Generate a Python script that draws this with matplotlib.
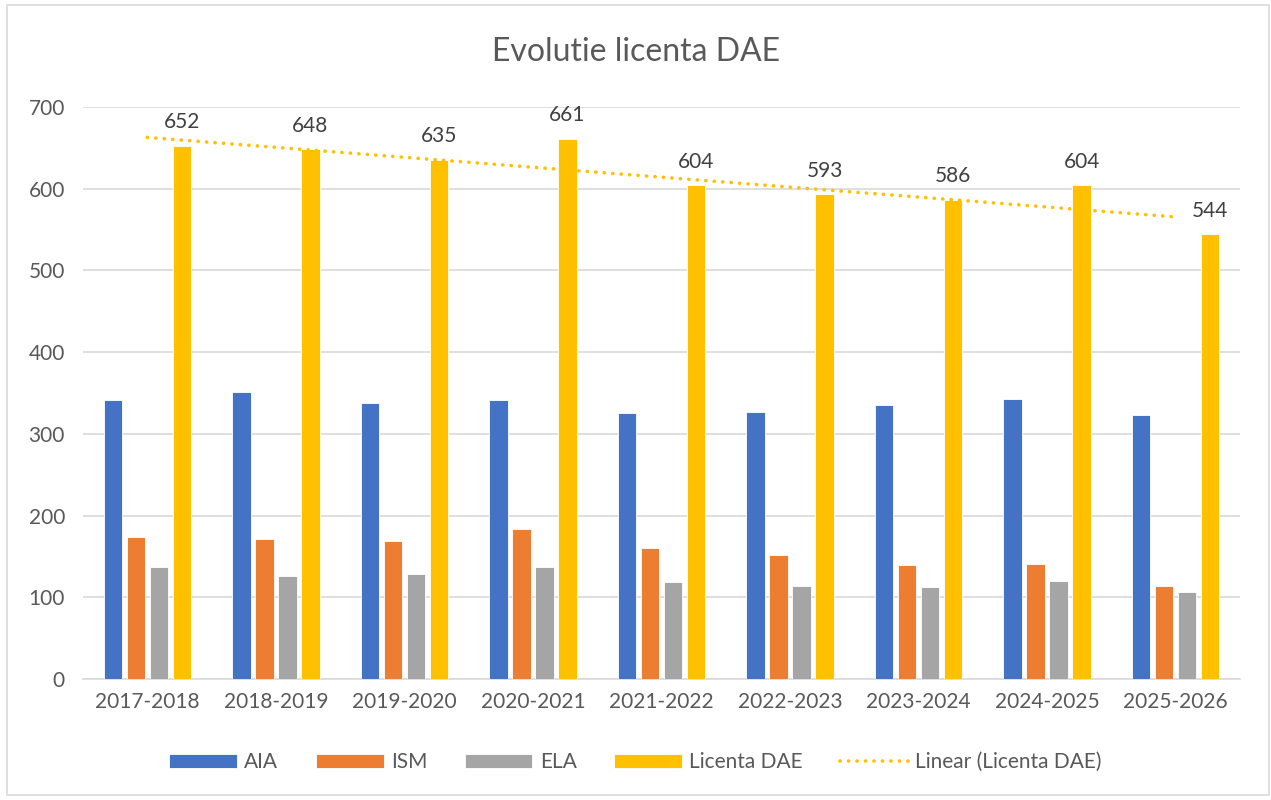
import matplotlib.pyplot as plt
import numpy as np
from matplotlib.patches import Rectangle

plt.rcParams['font.family'] = ['Lato', 'DejaVu Sans']

years = ['2017-2018', '2018-2019', '2019-2020', '2020-2021', '2021-2022',
         '2022-2023', '2023-2024', '2024-2025', '2025-2026']
aia = [342, 351, 338, 341, 325, 327, 335, 343, 323]
ism = [174, 171, 169, 183, 160, 152, 139, 141, 114]
ela = [137, 126, 128, 137, 119, 114, 112, 120, 107]
dae = [652, 648, 635, 661, 604, 593, 586, 604, 544]

series = [('AIA', aia, '#4472C4'), ('ISM', ism, '#ED7D31'),
          ('ELA', ela, '#A5A5A5'), ('Licenta DAE', dae, '#FFC000')]

fig = plt.figure(figsize=(12.71, 8), dpi=100)
ax = fig.add_axes([0.0653, 0.15125, 0.9103, 0.715])

x = np.arange(len(years))
w = 0.144
step = 0.179
handles = []
for i, (name, vals, col) in enumerate(series):
    bars = ax.bar(x + (i - 1.5) * step, vals, width=w, color=col, label=name,
                  edgecolor='white', linewidth=0.6, zorder=3)
    handles.append(bars)
    if name == 'Licenta DAE':
        for b, v in zip(bars, vals):
            ax.text(b.get_x() + b.get_width() / 2, v + 17, str(v),
                    ha='center', va='bottom', fontsize=15, color='#404040', zorder=5)

# linear trendline
k, b0 = np.polyfit(x, dae, 1)
xt = np.array([0, len(years) - 1])
trend, = ax.plot(xt, k * xt + b0, linestyle=(0, (0.05, 2.3)), color='#FFC000',
                 linewidth=2.6, dash_capstyle='round', label='Linear (Licenta DAE)',
                 zorder=4)
handles.append(trend)

ax.set_xlim(-0.5, len(years) - 0.5)
ax.set_ylim(0, 700)
ax.set_yticks(range(0, 701, 100))
ax.set_xticks(x)
ax.set_xticklabels(years)
ax.tick_params(axis='both', length=0, labelsize=15, colors='#595959')
ax.tick_params(axis='x', pad=9)
ax.tick_params(axis='y', pad=13)
ax.grid(axis='y', color='#D9D9D9', linewidth=1.2, zorder=0)
for s in ['top', 'right', 'left']:
    ax.spines[s].set_visible(False)
ax.spines['bottom'].set_color('#D9D9D9')
ax.spines['bottom'].set_linewidth(1.2)

fig.text(0.5, 1 - 52 / 800, 'Evolutie licenta DAE', ha='center', va='center',
         fontsize=23, color='#595959')

fig.legend(handles, [h.get_label() for h in handles], loc='center',
           bbox_to_anchor=(0.5, 1 - 762 / 800), ncol=5, frameon=False,
           fontsize=15, labelcolor='#595959', handlelength=3.25, handleheight=0.67,
           columnspacing=1.8, handletextpad=0.35)

fig.patches.append(Rectangle((7 / 1271, 5 / 800), 1262 / 1271, 790 / 800,
                             transform=fig.transFigure, fill=False,
                             edgecolor='#D9D9D9', linewidth=1.2))

fig.savefig('out.png', dpi=100)
